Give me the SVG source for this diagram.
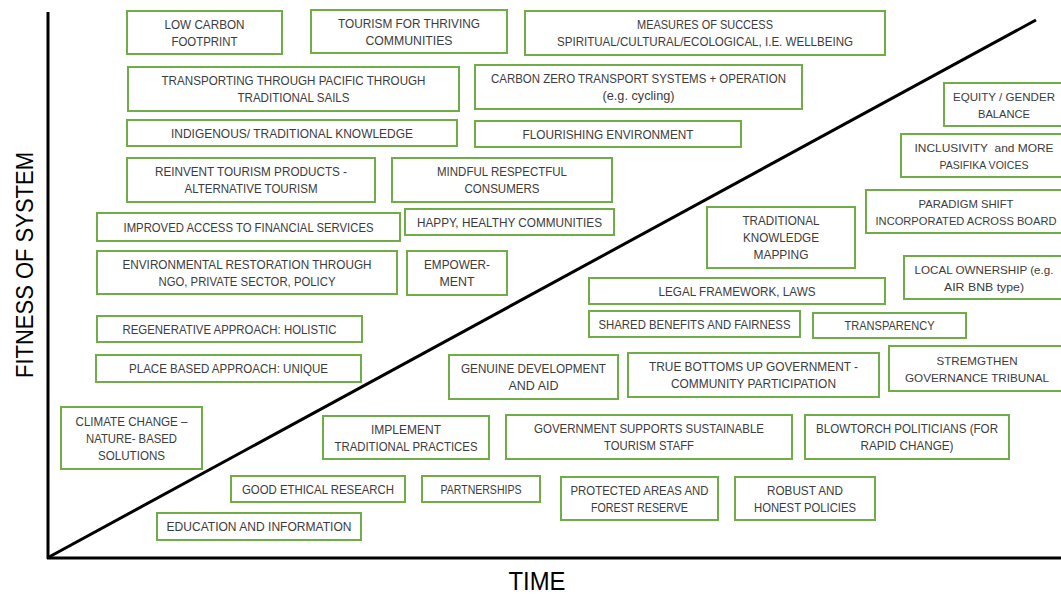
<svg xmlns="http://www.w3.org/2000/svg" width="1061" height="594" viewBox="0 0 1061 594">
<style>
.b{fill:#fff;stroke:#70AD47;stroke-width:2}
.t{font-family:"Liberation Sans",Arial,sans-serif;font-size:13px;fill:#3c3c3c;text-anchor:middle}
.s{font-size:11.5px}
.xs{font-size:10.8px}
.ax{stroke:#000;stroke-width:3;fill:none}
.lab{font-family:"Liberation Sans",Arial,sans-serif;fill:#000;text-anchor:middle}
</style>
<rect width="1061" height="594" fill="#fff"/>
<g id="axes">
<line class="ax" x1="48" y1="12" x2="48" y2="559"/>
<line class="ax" x1="47" y1="558" x2="1061" y2="558"/>
<line class="ax" x1="49" y1="557" x2="1036" y2="20"/>
</g>
<text class="lab" font-size="25" x="537" y="590" textLength="57" lengthAdjust="spacingAndGlyphs">TIME</text>
<text class="lab" font-size="24" transform="translate(33,265) rotate(-90)" textLength="226" lengthAdjust="spacingAndGlyphs">FITNESS OF SYSTEM</text>

<g id="low-carbon"><rect class="b" x="127" y="11" width="155" height="43"/>
<text class="t" x="204.5" y="28.5" textLength="80" lengthAdjust="spacingAndGlyphs">LOW CARBON</text>
<text class="t" x="204.5" y="45.5" textLength="66" lengthAdjust="spacingAndGlyphs">FOOTPRINT</text></g>

<g id="tourism-thriving"><rect class="b" x="311" y="10" width="196" height="43"/>
<text class="t" x="409" y="27.5" textLength="142" lengthAdjust="spacingAndGlyphs">TOURISM FOR THRIVING</text>
<text class="t" x="409" y="44.5" textLength="87" lengthAdjust="spacingAndGlyphs">COMMUNITIES</text></g>

<g id="measures"><rect class="b" x="525" y="11" width="360" height="44"/>
<text class="t" x="705" y="29" textLength="136" lengthAdjust="spacingAndGlyphs">MEASURES OF SUCCESS</text>
<text class="t" x="705" y="46" textLength="296" lengthAdjust="spacingAndGlyphs">SPIRITUAL/CULTURAL/ECOLOGICAL, I.E. WELLBEING</text></g>

<g id="transporting"><rect class="b" x="128" y="67" width="331" height="44"/>
<text class="t" x="293.5" y="85" textLength="264" lengthAdjust="spacingAndGlyphs">TRANSPORTING THROUGH PACIFIC THROUGH</text>
<text class="t" x="293.5" y="102" textLength="112" lengthAdjust="spacingAndGlyphs">TRADITIONAL SAILS</text></g>

<g id="carbon-zero"><rect class="b" x="475" y="65" width="327" height="44"/>
<text class="t" x="638.5" y="83" textLength="295" lengthAdjust="spacingAndGlyphs">CARBON ZERO TRANSPORT SYSTEMS + OPERATION</text>
<text class="t" x="638.5" y="100" textLength="72" lengthAdjust="spacingAndGlyphs">(e.g. cycling)</text></g>

<g id="indigenous"><rect class="b" x="127" y="120" width="330" height="26"/>
<text class="t" x="292" y="137.5" textLength="242" lengthAdjust="spacingAndGlyphs">INDIGENOUS/ TRADITIONAL KNOWLEDGE</text></g>

<g id="flourishing"><rect class="b" x="475" y="121" width="266" height="26"/>
<text class="t" x="608" y="138.5" textLength="171" lengthAdjust="spacingAndGlyphs">FLOURISHING ENVIRONMENT</text></g>

<g id="reinvent"><rect class="b" x="127" y="158" width="248" height="44"/>
<text class="t" x="251" y="176" textLength="192" lengthAdjust="spacingAndGlyphs">REINVENT TOURISM PRODUCTS -</text>
<text class="t" x="251" y="193" textLength="133" lengthAdjust="spacingAndGlyphs">ALTERNATIVE TOURISM</text></g>

<g id="mindful"><rect class="b" x="392" y="158" width="220" height="44"/>
<text class="t" x="502" y="176" textLength="130" lengthAdjust="spacingAndGlyphs">MINDFUL RESPECTFUL</text>
<text class="t" x="502" y="193" textLength="75" lengthAdjust="spacingAndGlyphs">CONSUMERS</text></g>

<g id="improved"><rect class="b" x="97" y="213" width="303" height="28"/>
<text class="t" x="248.5" y="231.5" textLength="250" lengthAdjust="spacingAndGlyphs">IMPROVED ACCESS TO FINANCIAL SERVICES</text></g>

<g id="happy"><rect class="b" x="405" y="209" width="209" height="26"/>
<text class="t" x="509.5" y="226.5" textLength="185" lengthAdjust="spacingAndGlyphs">HAPPY, HEALTHY COMMUNITIES</text></g>

<g id="environmental"><rect class="b" x="97" y="251" width="300" height="43"/>
<text class="t" x="247" y="268.5" textLength="249" lengthAdjust="spacingAndGlyphs">ENVIRONMENTAL RESTORATION THROUGH</text>
<text class="t" x="247" y="285.5" textLength="177" lengthAdjust="spacingAndGlyphs">NGO, PRIVATE SECTOR, POLICY</text></g>

<g id="empower"><rect class="b" x="407" y="251" width="100" height="44"/>
<text class="t" x="457" y="269" textLength="66" lengthAdjust="spacingAndGlyphs">EMPOWER-</text>
<text class="t" x="457" y="286" textLength="35" lengthAdjust="spacingAndGlyphs">MENT</text></g>

<g id="regenerative"><rect class="b" x="97" y="316" width="265" height="26"/>
<text class="t" x="229.5" y="333.5" textLength="214" lengthAdjust="spacingAndGlyphs">REGENERATIVE APPROACH: HOLISTIC</text></g>

<g id="place-based"><rect class="b" x="96" y="355" width="265" height="27"/>
<text class="t" x="228.5" y="373" textLength="199" lengthAdjust="spacingAndGlyphs">PLACE BASED APPROACH: UNIQUE</text></g>

<g id="climate"><rect class="b" x="61" y="407" width="141" height="62"/>
<text class="t" x="131.5" y="425.5" textLength="112" lengthAdjust="spacingAndGlyphs">CLIMATE CHANGE –</text>
<text class="t" x="131.5" y="442.5" textLength="91" lengthAdjust="spacingAndGlyphs">NATURE- BASED</text>
<text class="t" x="131.5" y="459.5" textLength="67" lengthAdjust="spacingAndGlyphs">SOLUTIONS</text></g>

<g id="equity"><rect class="b" x="944" y="83" width="122" height="43"/>
<text class="t xs" x="1004" y="100.5" textLength="102" lengthAdjust="spacingAndGlyphs">EQUITY / GENDER</text>
<text class="t s" x="1004" y="117.5" textLength="52" lengthAdjust="spacingAndGlyphs">BALANCE</text></g>

<g id="inclusivity"><rect class="b" x="901" y="134" width="168" height="43"/>
<text class="t s" x="984" y="151.5" textLength="139" lengthAdjust="spacingAndGlyphs" xml:space="preserve">INCLUSIVITY  and MORE</text>
<text class="t s" x="984" y="168.5" textLength="89" lengthAdjust="spacingAndGlyphs">PASIFIKA VOICES</text></g>

<g id="paradigm"><rect class="b" x="866" y="190" width="202" height="43"/>
<text class="t s" x="966" y="207.5" textLength="95" lengthAdjust="spacingAndGlyphs">PARADIGM SHIFT</text>
<text class="t xs" x="966" y="224.5" textLength="181" lengthAdjust="spacingAndGlyphs">INCORPORATED ACROSS BOARD</text></g>

<g id="tk-mapping"><rect class="b" x="707" y="207" width="148" height="61"/>
<text class="t" x="781" y="225" textLength="77" lengthAdjust="spacingAndGlyphs">TRADITIONAL</text>
<text class="t" x="781" y="242" textLength="76" lengthAdjust="spacingAndGlyphs">KNOWLEDGE</text>
<text class="t" x="781" y="259" textLength="55" lengthAdjust="spacingAndGlyphs">MAPPING</text></g>

<g id="local-ownership"><rect class="b" x="904" y="256" width="162" height="43"/>
<text class="t s" x="984" y="273.5" textLength="139" lengthAdjust="spacingAndGlyphs">LOCAL OWNERSHIP (e.g.</text>
<text class="t s" x="984" y="290.5" textLength="80" lengthAdjust="spacingAndGlyphs">AIR BNB type)</text></g>

<g id="legal"><rect class="b" x="589" y="278" width="296" height="26"/>
<text class="t" x="737" y="295.5" textLength="157" lengthAdjust="spacingAndGlyphs">LEGAL FRAMEWORK, LAWS</text></g>

<g id="shared"><rect class="b" x="589" y="311" width="211" height="26"/>
<text class="t" x="694.5" y="328.5" textLength="192" lengthAdjust="spacingAndGlyphs">SHARED BENEFITS AND FAIRNESS</text></g>

<g id="transparency"><rect class="b" x="813" y="313" width="153" height="25"/>
<text class="t" x="889.5" y="330" textLength="90" lengthAdjust="spacingAndGlyphs">TRANSPARENCY</text></g>

<g id="genuine"><rect class="b" x="449" y="355" width="169" height="44"/>
<text class="t" x="533.5" y="373" textLength="145" lengthAdjust="spacingAndGlyphs">GENUINE DEVELOPMENT</text>
<text class="t" x="533.5" y="390" textLength="50" lengthAdjust="spacingAndGlyphs">AND AID</text></g>

<g id="true-bottoms-up"><rect class="b" x="628" y="353" width="251" height="44"/>
<text class="t" x="753.5" y="371" textLength="209" lengthAdjust="spacingAndGlyphs">TRUE BOTTOMS UP GOVERNMENT -</text>
<text class="t" x="753.5" y="388" textLength="165" lengthAdjust="spacingAndGlyphs">COMMUNITY PARTICIPATION</text></g>

<g id="stremgthen"><rect class="b" x="889" y="346" width="177" height="45"/>
<text class="t s" x="977" y="364.5" textLength="81" lengthAdjust="spacingAndGlyphs">STREMGTHEN</text>
<text class="t s" x="977" y="381.5" textLength="144" lengthAdjust="spacingAndGlyphs">GOVERNANCE TRIBUNAL</text></g>

<g id="implement"><rect class="b" x="323" y="416" width="166" height="43"/>
<text class="t" x="406" y="433.5" textLength="70" lengthAdjust="spacingAndGlyphs">IMPLEMENT</text>
<text class="t" x="406" y="450.5" textLength="143" lengthAdjust="spacingAndGlyphs">TRADITIONAL PRACTICES</text></g>

<g id="government"><rect class="b" x="506" y="415" width="286" height="44"/>
<text class="t" x="649" y="433" textLength="230" lengthAdjust="spacingAndGlyphs">GOVERNMENT SUPPORTS SUSTAINABLE</text>
<text class="t" x="649" y="450" textLength="90" lengthAdjust="spacingAndGlyphs">TOURISM STAFF</text></g>

<g id="blowtorch"><rect class="b" x="805" y="415" width="204" height="44"/>
<text class="t" x="907" y="433" textLength="182" lengthAdjust="spacingAndGlyphs">BLOWTORCH POLITICIANS (FOR</text>
<text class="t" x="907" y="450" textLength="93" lengthAdjust="spacingAndGlyphs">RAPID CHANGE)</text></g>

<g id="good-ethical"><rect class="b" x="231" y="476" width="174" height="26"/>
<text class="t" x="318" y="493.5" textLength="152" lengthAdjust="spacingAndGlyphs">GOOD ETHICAL RESEARCH</text></g>

<g id="partnerships"><rect class="b" x="422" y="476" width="118" height="26"/>
<text class="t" x="481" y="493.5" textLength="81" lengthAdjust="spacingAndGlyphs">PARTNERSHIPS</text></g>

<g id="protected"><rect class="b" x="561" y="477" width="157" height="43"/>
<text class="t" x="639.5" y="494.5" textLength="138" lengthAdjust="spacingAndGlyphs">PROTECTED AREAS AND</text>
<text class="t" x="639.5" y="511.5" textLength="97" lengthAdjust="spacingAndGlyphs">FOREST RESERVE</text></g>

<g id="robust"><rect class="b" x="735" y="477" width="140" height="43"/>
<text class="t" x="805" y="494.5" textLength="76" lengthAdjust="spacingAndGlyphs">ROBUST AND</text>
<text class="t" x="805" y="511.5" textLength="102" lengthAdjust="spacingAndGlyphs">HONEST POLICIES</text></g>

<g id="education"><rect class="b" x="157" y="513" width="204" height="27"/>
<text class="t" x="259" y="531" textLength="185" lengthAdjust="spacingAndGlyphs">EDUCATION AND INFORMATION</text></g>
</svg>
